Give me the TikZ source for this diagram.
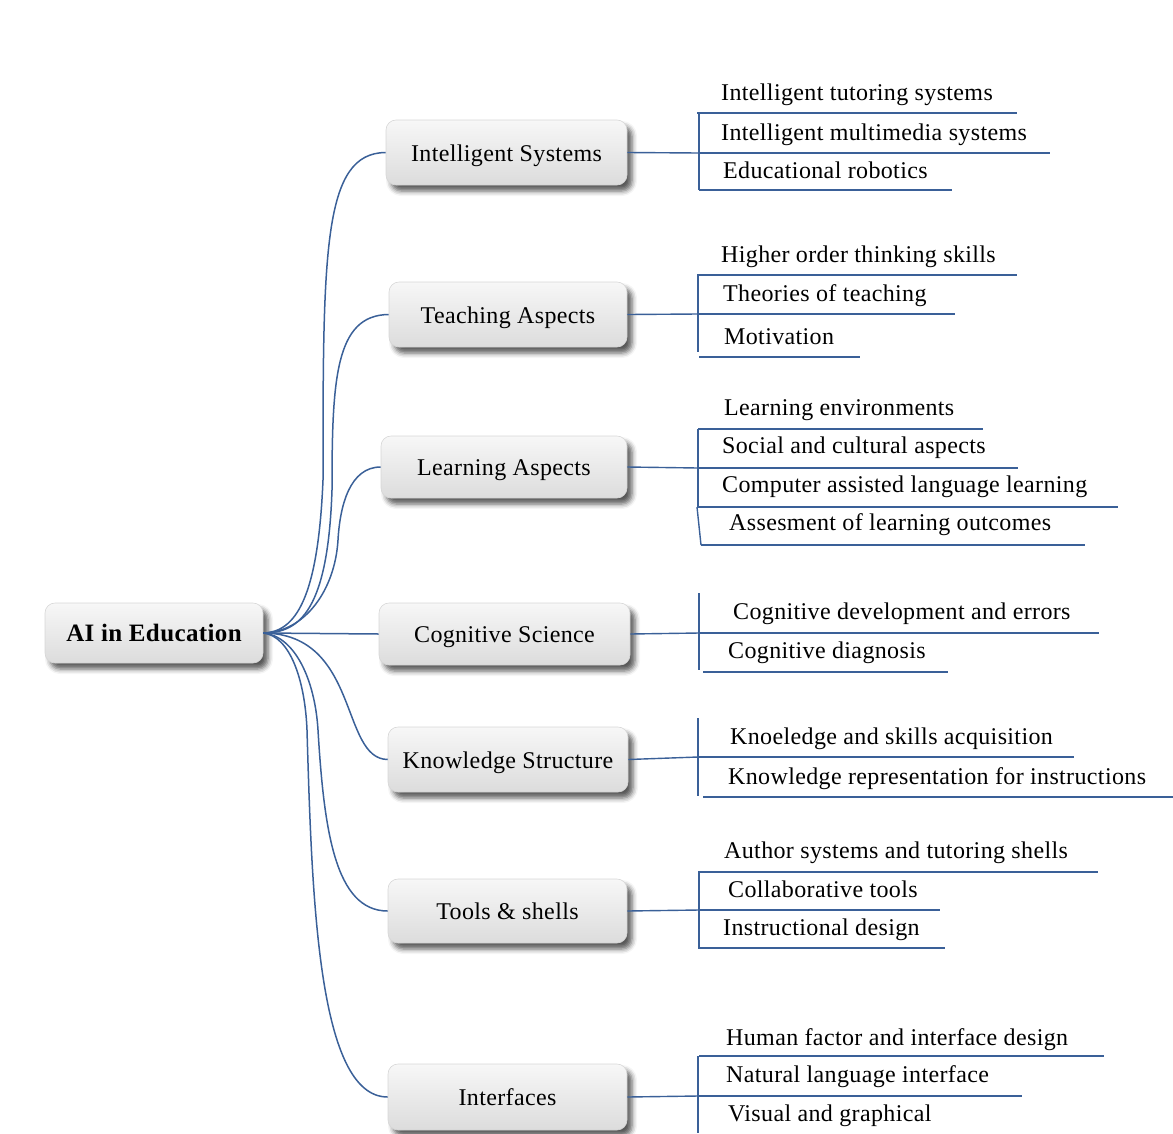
\documentclass[tikz,border=0pt]{standalone}
\usepackage{fontspec}
\setmainfont[LetterSpace=1.5]{Liberation Serif}
\usetikzlibrary{shadows.blur}
\definecolor{linkblue}{RGB}{58,96,152}
\definecolor{boxedge}{RGB}{214,214,214}
\definecolor{boxtop}{RGB}{247,247,247}
\definecolor{boxbot}{RGB}{220,220,220}

\begin{document}
\begin{tikzpicture}[x=1pt,y=-1pt,
  txt/.style={font=\fontsize{24}{28}\selectfont},
  topic/.style={txt, rounded corners=10pt, draw=boxedge, line width=0.6pt,
    top color=boxtop, bottom color=boxbot, inner sep=0pt, align=center,
    text height=20pt, text depth=3pt,
    blur shadow={shadow xshift=5pt, shadow yshift=-6pt,
      shadow blur radius=5pt, shadow opacity=65}},
  leaf/.style={txt, anchor=base west, inner sep=0pt},
  link/.style={draw=linkblue, line width=1.5pt},
  rule/.style={draw=linkblue, line width=1.4pt},
]
\useasboundingbox (0,0) rectangle (1173,1133);

% central topic and the seven branches
\node[topic, font=\fontsize{25}{28}\selectfont\bfseries,
      minimum width=218pt, minimum height=60pt] (root) at (154,633) {AI in Education};
\node[topic, minimum width=241pt, minimum height=65pt] (nIS) at (506.5,152.5) {Intelligent Systems};
\node[topic, minimum width=238pt, minimum height=65pt] (nTA) at (508,314.5) {Teaching Aspects};
\node[topic, minimum width=246pt, minimum height=62pt] (nLA) at (504,467) {Learning Aspects};
\node[topic, minimum width=251pt, minimum height=62pt] (nCS) at (504.5,634) {Cognitive Science};
\node[topic, minimum width=240pt, minimum height=65pt] (nKS) at (508,759.5) {Knowledge Structure};
\node[topic, minimum width=239pt, minimum height=64pt] (nTS) at (507.5,911) {Tools \& shells};
\node[topic, minimum width=239pt, minimum height=66pt] (nIF) at (507.5,1097) {Interfaces};

% curved links from the centre to each branch
\draw[link] (root.east) .. controls (295,632) and (318,600) .. (323,480)
            .. controls (323,250) and (323,153) .. (nIS.west);
\draw[link] (root.east) .. controls (300,633) and (328,610) .. (332,490)
            .. controls (332,380) and (335,315) .. (nTA.west);
\draw[link] (root.east) .. controls (305,632) and (335,590) .. (338,540)
            .. controls (340,505) and (350,467) .. (nLA.west);
\draw[link] (root.east) -- (nCS.west);
\draw[link] (root.east) .. controls (360,634) and (340,759) .. (nKS.west);
\draw[link] (root.east) .. controls (295,636) and (315,680) .. (318,730)
            .. controls (324,830) and (335,911) .. (nTS.west);
\draw[link] (root.east) .. controls (290,636) and (305,680) .. (307,730)
            .. controls (312,900) and (318,1097) .. (nIF.west);

% ---- Intelligent Systems
\coordinate (bIS) at (699,153);
\draw[rule] (nIS.east) -- (bIS);
\draw[rule] (699,113) -- (699,190);
\draw[rule] (697,113) -- (1017,113);
\draw[rule] (699,153) -- (1050,153);
\draw[rule] (699,190) -- (952,190);
\node[leaf] (is1) at (721,100) {Intelligent tutoring systems};
\node[leaf] (is2) at (721,140) {Intelligent multimedia systems};
\node[leaf] (is3) at (723,178) {Educational robotics};

% ---- Teaching Aspects
\coordinate (bTA) at (698,314);
\draw[rule] (nTA.east) -- (bTA);
\draw[rule] (698,275) -- (698,352);
\draw[rule] (697,275) -- (1017,275);
\draw[rule] (698,314) -- (955,314);
\draw[rule] (699,357) -- (860,357);
\node[leaf] (ta1) at (721,262) {Higher order thinking skills};
\node[leaf] (ta2) at (723,301) {Theories of teaching};
\node[leaf] (ta3) at (724,344) {Motivation};

% ---- Learning Aspects
\coordinate (bLA) at (698,468);
\draw[rule] (nLA.east) -- (bLA);
\draw[rule] (698,429) -- (698,507);
\draw[rule] (697,507) -- (701,545);
\draw[rule] (698,429) -- (983,429);
\draw[rule] (698,468) -- (1018,468);
\draw[rule] (697,507) -- (1118,507);
\draw[rule] (701,545) -- (1085,545);
\node[leaf] (la1) at (724,415) {Learning environments};
\node[leaf] (la2) at (722,453) {Social and cultural aspects};
\node[leaf] (la3) at (722,492) {Computer assisted language learning};
\node[leaf] (la4) at (729,530) {Assesment of learning outcomes};

% ---- Cognitive Science
\coordinate (bCS) at (699,633);
\draw[rule] (nCS.east) -- (bCS);
\draw[rule] (699,593) -- (699,670);
\draw[rule] (699,633) -- (1099,633);
\draw[rule] (703,672) -- (948,672);
\node[leaf] (cs1) at (733,619) {Cognitive development and errors};
\node[leaf] (cs2) at (728,658) {Cognitive diagnosis};

% ---- Knowledge Structure
\coordinate (bKS) at (698,757);
\draw[rule] (nKS.east) -- (bKS);
\draw[rule] (698,718) -- (698,796);
\draw[rule] (698,757) -- (1074,757);
\draw[rule] (703,797) -- (1173,797);
\node[leaf] (ks1) at (730,744) {Knoeledge and skills acquisition};
\node[leaf] (ks2) at (728,784) {Knowledge representation for instructions};

% ---- Tools & shells
\coordinate (bTS) at (699,910);
\draw[rule] (nTS.east) -- (bTS);
\draw[rule] (699,872) -- (699,948);
\draw[rule] (698,872) -- (1098,872);
\draw[rule] (698,910) -- (940,910);
\draw[rule] (698,948) -- (945,948);
\node[leaf] (ts1) at (724,858) {Author systems and tutoring shells};
\node[leaf] (ts2) at (728,897) {Collaborative tools};
\node[leaf] (ts3) at (723,935) {Instructional design};

% ---- Interfaces
\coordinate (bIF) at (698,1096);
\draw[rule] (nIF.east) -- (bIF);
\draw[rule] (698,1056) -- (698,1133);
\draw[rule] (699,1056) -- (1104,1056);
\draw[rule] (698,1096) -- (1022,1096);
\node[leaf] (if1) at (726,1045) {Human factor and interface design};
\node[leaf] (if2) at (726,1082) {Natural language interface};
\node[leaf] (if3) at (728,1121) {Visual and graphical};
\end{tikzpicture}
\end{document}
